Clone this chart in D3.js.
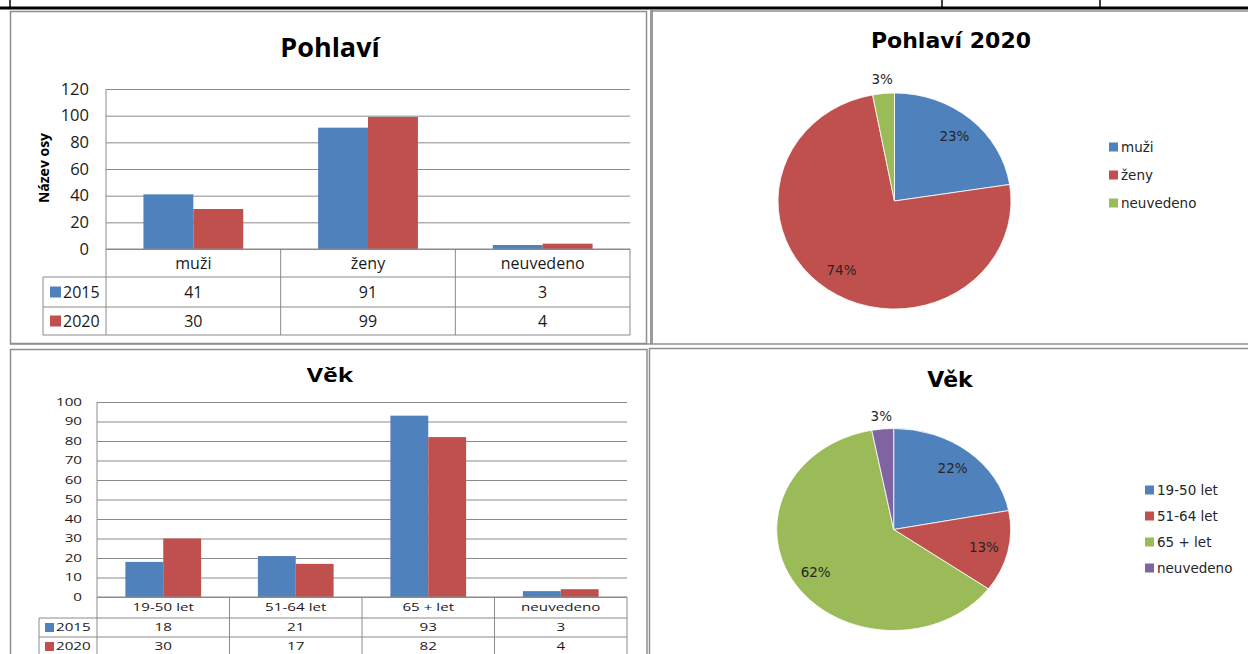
<!DOCTYPE html>
<html>
<head>
<meta charset="utf-8">
<script src="https://cdn.jsdelivr.net/npm/d3@7"></script>
<style>
body { margin: 0; background: #fff; }
svg { display: block; }
text { font-family: "Open Sans", sans-serif; fill: #1a1a1a; }
.pie-text { font-family: "DejaVu Sans", sans-serif; fill: #262626; }
</style>
</head>
<body>
<svg id="chart" width="1248" height="654"></svg>
<script>

///////////////////////////////////////////////////////////////////////////
//////////////////////////////// Data /////////////////////////////////////
///////////////////////////////////////////////////////////////////////////

var years = ["2015", "2020"];

var pohlaviCats = ["muži", "ženy", "neuvedeno"];
var pohlavi2015 = [41, 91, 3];
var pohlavi2020 = [30, 99, 4];
var pohlaviTicks = [0, 20, 40, 60, 80, 100, 120];

var vekCats = ["19-50 let", "51-64 let", "65 + let", "neuvedeno"];
var vek2015 = [18, 21, 93, 3];
var vek2020 = [30, 17, 82, 4];
var vekTicks = [0, 10, 20, 30, 40, 50, 60, 70, 80, 90, 100];

//Percentages as printed on the age pie
var vekPiePct = [22, 13, 62, 3];

var blue = "#4F81BD", red = "#C0504D", green = "#9BBB59", purple = "#8064A2";
var frameColor = "#8f8f8f",
	gridColor = "#8a8a8a";

var svg = d3.select("#chart");

///////////////////////////////////////////////////////////////////////////
/////////////////////////////// Frames ////////////////////////////////////
///////////////////////////////////////////////////////////////////////////

var frames = svg.append("g").attr("fill", "none");

//Black table border at the very top
frames.append("line").attr("x1", 0).attr("x2", 1248).attr("y1", 8).attr("y2", 8)
	.attr("stroke", "#000").attr("stroke-width", 3);
[10, 942, 1100].forEach(function(x) {
	frames.append("line").attr("x1", x).attr("x2", x).attr("y1", 0).attr("y2", 8)
		.attr("stroke", "#000").attr("stroke-width", 1.5);
});

//Top row
frames.append("rect").attr("x", 10.5).attr("y", 11.5).attr("width", 636).attr("height", 332)
	.attr("stroke", frameColor).attr("stroke-width", 1.5);
frames.append("line").attr("x1", 651.5).attr("x2", 651.5).attr("y1", 10).attr("y2", 344)
	.attr("stroke", "#9a9a9a").attr("stroke-width", 3);
frames.append("line").attr("x1", 652).attr("x2", 1248).attr("y1", 11).attr("y2", 11)
	.attr("stroke", frameColor).attr("stroke-width", 1.5);
frames.append("line").attr("x1", 10).attr("x2", 1248).attr("y1", 344).attr("y2", 344)
	.attr("stroke", frameColor).attr("stroke-width", 1.5);

//Bottom row
frames.append("rect").attr("x", 10.5).attr("y", 349.5).attr("width", 636.5).attr("height", 330)
	.attr("stroke", frameColor).attr("stroke-width", 1.5);
frames.append("line").attr("x1", 649.5).attr("x2", 1248).attr("y1", 348.5).attr("y2", 348.5)
	.attr("stroke", frameColor).attr("stroke-width", 1.5);
frames.append("line").attr("x1", 649.5).attr("x2", 649.5).attr("y1", 348).attr("y2", 654)
	.attr("stroke", frameColor).attr("stroke-width", 1.5);

///////////////////////////////////////////////////////////////////////////
/////////////////////////////// Helpers ///////////////////////////////////
///////////////////////////////////////////////////////////////////////////

//Text with an optional horizontal stretch (the lower chart is squashed in the original)
function label(g, x, y, str, anchor, size, sx, weight, cls) {
	return g.append("text")
		.attr("class", cls || null)
		.attr("transform", "translate(" + x + "," + y + ") scale(" + (sx || 1) + ",1)")
		.attr("text-anchor", anchor)
		.attr("dy", "0.35em")
		.style("font-size", size + "px")
		.style("font-weight", weight || 400)
		.text(str);
}

function hLine(g, x1, x2, y) {
	g.append("line").attr("x1", x1).attr("x2", x2).attr("y1", y).attr("y2", y);
}
function vLine(g, x, y1, y2) {
	g.append("line").attr("x1", x).attr("x2", x).attr("y1", y1).attr("y2", y2);
}

///////////////////////////////////////////////////////////////////////////
//////////////////////// Bar chart with data table ////////////////////////
///////////////////////////////////////////////////////////////////////////

function drawBarTable(c) {

	var g = svg.append("g");

	var y = d3.scaleLinear().domain([0, c.max]).range([c.yBase, c.yTop]);
	var x0 = d3.scaleBand().domain(c.cats).range([c.xLeft, c.xRight]);
	//Gap width 150% -> outer padding of 0.75 step on each side
	var x1 = d3.scaleBand().domain(years).range([0, x0.bandwidth()]).paddingOuter(0.75);

	//Gridlines
	g.append("g")
		.attr("transform", "translate(" + c.xLeft + ",0)")
		.call(d3.axisLeft(y).tickValues(c.ticks).tickSize(-(c.xRight - c.xLeft)).tickFormat(""))
		.call(function(a) { a.select(".domain").remove(); })
		.selectAll("line").attr("stroke", gridColor).attr("stroke-width", 1);

	//Tick labels
	c.ticks.forEach(function(t) {
		label(g, c.tickX, y(t), t, "end", c.tickFont, c.sx);
	});

	//Bars
	var series = [
		{year: "2015", values: c.v2015, color: blue},
		{year: "2020", values: c.v2020, color: red}
	];

	g.selectAll(".series")
		.data(series)
		.enter().append("g")
		.attr("class", "series")
		.attr("fill", function(d) { return d.color; })
		.selectAll("rect")
		.data(function(d) {
			return d.values.map(function(v, i) { return {cat: c.cats[i], value: v, year: d.year}; });
		})
		.enter().append("rect")
			.attr("x", function(d) { return x0(d.cat) + x1(d.year); })
			.attr("width", x1.bandwidth())
			.attr("y", function(d) { return y(d.value); })
			.attr("height", function(d) { return y(0) - y(d.value); });

	//Table grid
	var r = c.rows;
	var tg = g.append("g").attr("stroke", gridColor).attr("stroke-width", 1);
	hLine(tg, c.xLeft, c.xRight, r[0]);
	for (var i = 1; i < r.length; i++) hLine(tg, c.tableLeft, c.xRight, r[i]);
	vLine(tg, c.tableLeft, r[1], r[r.length - 1]);
	vLine(tg, c.xLeft, c.yTop, r[r.length - 1]);
	c.cats.forEach(function(cat) {
		vLine(tg, x0(cat) + x0.bandwidth(), r[0], r[r.length - 1]);
	});

	//Category labels
	c.cats.forEach(function(cat) {
		label(g, x0(cat) + x0.bandwidth() / 2, (r[0] + r[1]) / 2, cat, "middle", c.font, c.sx);
	});

	//Series rows: key, name, values
	series.forEach(function(s, si) {
		var cy = (r[si + 1] + r[si + 2]) / 2;
		g.append("rect")
			.attr("x", c.keyX).attr("y", cy - c.keySize / 2)
			.attr("width", c.keySize).attr("height", c.keySize)
			.attr("fill", s.color);
		label(g, c.keyTextX, cy, s.year, "start", c.font, c.sx);
		s.values.forEach(function(v, i) {
			label(g, x0(c.cats[i]) + x0.bandwidth() / 2, cy, v, "middle", c.font, c.sx);
		});
	});

	return g;
}//function drawBarTable

///////////////////////////////////////////////////////////////////////////
//////////////////////////////// Pie chart ////////////////////////////////
///////////////////////////////////////////////////////////////////////////

function drawPie(c) {

	var total = d3.sum(c.values);
	var arcs = d3.pie().sort(null).value(function(d) { return d; })(c.values);
	var arc = d3.arc().innerRadius(0).outerRadius(c.ry);

	//The original is slightly stretched sideways
	var g = svg.append("g")
		.attr("transform", "translate(" + c.cx + "," + c.cy + ") scale(" + (c.rx / c.ry) + ",1)");

	g.selectAll("path")
		.data(arcs)
		.enter().append("path")
		.attr("d", arc)
		.attr("fill", function(d, i) { return c.colors[i]; })
		.attr("stroke", "#fff")
		.attr("stroke-width", 0.8)
		.attr("vector-effect", "non-scaling-stroke");

	//Percentage labels, small slices outside
	arcs.forEach(function(d) {
		var pct = Math.round(d.value / total * 100);
		var mid = (d.startAngle + d.endAngle) / 2;
		var f = pct < 5 ? 1.13 : 0.79;
		label(svg, c.cx + Math.sin(mid) * c.rx * f, c.cy - Math.cos(mid) * c.ry * f,
			pct + "%", "middle", 13.5, 1, 400, "pie-text");
	});

	//Legend
	c.names.forEach(function(n, i) {
		var ly = c.legendY + i * c.legendStep;
		svg.append("rect")
			.attr("x", c.legendX).attr("y", ly - 4.5)
			.attr("width", 9).attr("height", 9)
			.attr("fill", c.colors[i]);
		label(svg, c.legendX + 12, ly, n, "start", 13.5, 1, 400, "pie-text");
	});

	//Title
	svg.append("text")
		.attr("class", "pie-text")
		.attr("x", c.titleX).attr("y", c.titleY)
		.attr("text-anchor", "middle")
		.style("font-size", "22px")
		.style("font-weight", 700)
		.style("fill", "#000")
		.text(c.title);
}//function drawPie

///////////////////////////////////////////////////////////////////////////
////////////////////////////// Draw charts ////////////////////////////////
///////////////////////////////////////////////////////////////////////////

//Pohlaví bars
drawBarTable({
	cats: pohlaviCats, v2015: pohlavi2015, v2020: pohlavi2020,
	max: 120, ticks: pohlaviTicks,
	xLeft: 106, xRight: 630, yTop: 89, yBase: 249,
	rows: [249, 277, 307, 335], tableLeft: 43,
	tickX: 89, tickFont: 16.5, font: 16, sx: 1,
	keyX: 50, keySize: 11, keyTextX: 63
});

svg.append("text")
	.attr("x", 330).attr("y", 57)
	.attr("text-anchor", "middle")
	.style("font-size", "27px").style("font-weight", 700).style("fill", "#000")
	.text("Pohlaví");

svg.append("text")
	.attr("transform", "translate(49,168) rotate(-90)")
	.attr("text-anchor", "middle")
	.style("font-size", "14px").style("font-weight", 700).style("fill", "#000")
	.text("Název osy");

//Věk bars
drawBarTable({
	cats: vekCats, v2015: vek2015, v2020: vek2020,
	max: 100, ticks: vekTicks,
	xLeft: 97, xRight: 627, yTop: 402, yBase: 597,
	rows: [597, 618, 637, 656], tableLeft: 39,
	tickX: 82, tickFont: 11, font: 11, sx: 1.38,
	keyX: 45, keySize: 9, keyTextX: 56
});

svg.append("text")
	.attr("transform", "translate(330,382) scale(1.25,1)")
	.attr("text-anchor", "middle")
	.style("font-size", "20px").style("font-weight", 700).style("fill", "#000")
	.text("Věk");

//Pohlaví 2020 pie
drawPie({
	values: pohlavi2020, names: pohlaviCats, colors: [blue, red, green],
	cx: 894.5, cy: 201, rx: 116.5, ry: 108,
	legendX: 1109, legendY: 147, legendStep: 28,
	title: "Pohlaví 2020", titleX: 951, titleY: 48
});

//Věk pie
drawPie({
	values: vekPiePct, names: vekCats, colors: [blue, red, green, purple],
	cx: 893.7, cy: 529.5, rx: 117, ry: 101,
	legendX: 1145, legendY: 490, legendStep: 26,
	title: "Věk", titleX: 950, titleY: 387
});

</script>
</body>
</html>
